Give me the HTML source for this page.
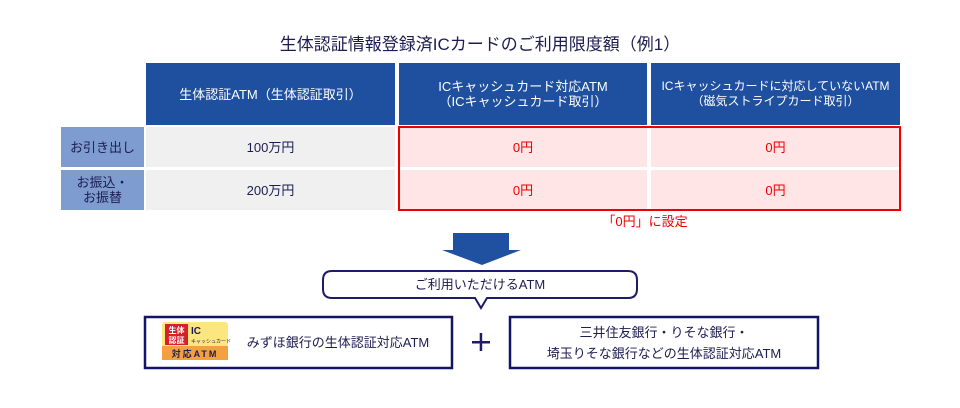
<!DOCTYPE html><html><head><meta charset="utf-8"><style>
body{margin:0;width:960px;height:408px;background:#fff;position:relative;font-family:"Liberation Sans","Noto Sans CJK JP",sans-serif;color:#1c1c50;overflow:hidden}
div{position:absolute;box-sizing:border-box}
.c{display:flex;align-items:center;justify-content:center;text-align:center;font-size:13px;line-height:15px}
.h{background:#1f4f9f;color:#fff}
.g{background:#f0f0f0}
.l{background:#7e9ccf}
.p{background:#ffe5e5;color:#e00}
</style></head><body>
<div class="c" style="left:200px;top:32px;width:560px;height:24px;font-size:17px">生体認証情報登録済ICカードのご利用限度額（例1）</div>
<div class="c h" style="left:146px;top:63px;width:249px;height:62px">生体認証ATM（生体認証取引）</div>
<div class="c h" style="left:399px;top:63px;width:248px;height:62px">ICキャッシュカード対応ATM<br>（ICキャッシュカード取引）</div>
<div class="c h" style="left:651px;top:63px;width:249px;height:62px;font-size:12px">ICキャッシュカードに対応していないATM<br>（磁気ストライプカード取引）</div>
<div class="c l" style="left:61px;top:127px;width:83px;height:40px">お引き出し</div>
<div class="c l" style="left:61px;top:170px;width:83px;height:40px">お振込・<br>お振替</div>
<div class="c g" style="left:146px;top:127px;width:249px;height:40px">100万円</div>
<div class="c g" style="left:146px;top:170px;width:249px;height:40px">200万円</div>
<div class="c p" style="left:399px;top:127px;width:248px;height:40px">0円</div>
<div class="c p" style="left:651px;top:127px;width:249px;height:40px">0円</div>
<div class="c p" style="left:399px;top:170px;width:248px;height:40px">0円</div>
<div class="c p" style="left:651px;top:170px;width:249px;height:40px">0円</div>
<div style="left:647px;top:127px;width:4px;height:83px;background:#fff"></div>
<div style="left:399px;top:167px;width:501px;height:3px;background:#fff"></div>
<div style="left:398px;top:126px;width:503px;height:85px;border:2px solid #e00"></div>
<div class="c" style="left:590px;top:212px;width:110px;height:18px;color:#e00">「0円」に設定</div>
<svg style="position:absolute;left:0;top:0" width="960" height="408">
<rect x="453" y="233" width="56" height="18" fill="#2050a0"/>
<polygon points="442,250 521,250 482,265" fill="#2050a0"/>
<path d="M332,271 H628 Q637,271 637,280 V289 Q637,298 628,298 H487 L481,308 L475,298 H332 Q323,298 323,289 V280 Q323,271 332,271 Z" fill="#fff" stroke="#1c1c6a" stroke-width="2"/>
<rect x="145" y="317" width="307" height="51" fill="#fff" stroke="#141466" stroke-width="2.5"/>
<rect x="510" y="317" width="308" height="51" fill="#fff" stroke="#141466" stroke-width="2.5"/>
<rect x="472" y="341" width="18" height="2.5" fill="#1c1c6a"/><rect x="479.7" y="333" width="2.5" height="18" fill="#1c1c6a"/>
<rect x="162" y="322" width="66" height="38" rx="3" fill="#fde680"/>
<rect x="162" y="346" width="66" height="14" fill="#f4a040"/>
<rect x="165" y="324" width="23" height="21" fill="#d8202a"/>
<text x="176.5" y="333" font-size="8" fill="#fff" text-anchor="middle" font-weight="bold">生体</text>
<text x="176.5" y="343" font-size="8" fill="#fff" text-anchor="middle" font-weight="bold">認証</text>
<text x="191" y="334" font-size="10" font-weight="bold" fill="#1c1c50">IC</text>
<text x="191" y="343" font-size="5" fill="#1c1c50">キャッシュカード</text>
<text x="195" y="357" font-size="9" font-weight="bold" fill="#1c1c50" text-anchor="middle" letter-spacing="2">対応ATM</text>
</svg>
<div class="c" style="left:323px;top:271px;width:314px;height:27px;font-size:13px">ご利用いただけるATM</div>
<div class="c" style="left:238px;top:317px;width:200px;height:51px;font-size:13px">みずほ銀行の生体認証対応ATM</div>
<div class="c" style="left:510px;top:317px;width:308px;height:51px;font-size:13px;line-height:21px">三井住友銀行・りそな銀行・<br>埼玉りそな銀行などの生体認証対応ATM</div>
</body></html>
